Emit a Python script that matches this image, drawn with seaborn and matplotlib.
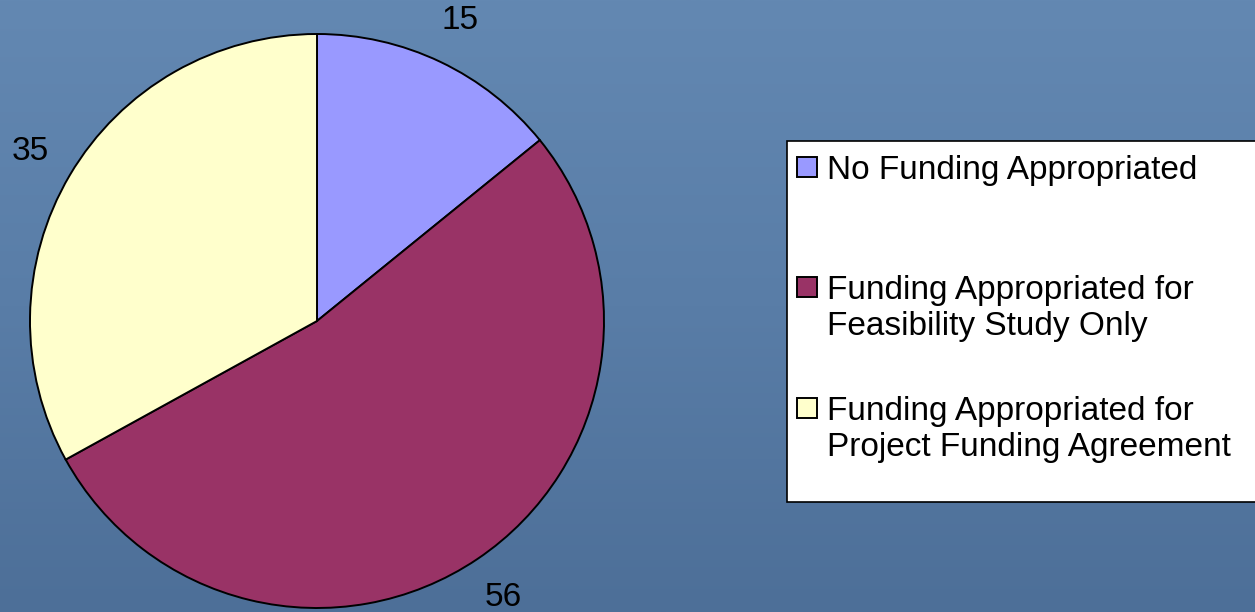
import numpy as np
import pandas as pd
import matplotlib
matplotlib.use('Agg')
import matplotlib.pyplot as plt
from matplotlib.colors import LinearSegmentedColormap
from matplotlib.patches import Rectangle
import seaborn as sns

# data
categories = ["No Funding Appropriated",
              "Funding Appropriated for\nFeasibility Study Only",
              "Funding Appropriated for\nProject Funding Agreement"]
counts = [15, 56, 35]
colors = ["#9999ff", "#993366", "#ffffcc"]

sns.set_theme(style="white")
plt.rcParams['font.family'] = ['Liberation Sans', 'DejaVu Sans']

df = pd.DataFrame({"category": categories, "count": counts, "color": colors})

fig = plt.figure(figsize=(12.55, 6.12), dpi=100)

# slide-style background gradient
bg = fig.add_axes([0, 0, 1, 1], zorder=0)
bg_cmap = LinearSegmentedColormap.from_list("slide", ["#6388b2", "#597da7", "#4d6f98"])
bg.imshow(np.linspace(0, 1, 256).reshape(-1, 1), aspect="auto", cmap=bg_cmap,
          extent=[0, 1, 0, 1])
bg.set_axis_off()

# pie
ax = fig.add_axes([30 / 1255, 4 / 612, 574 / 1255, 574 / 612], zorder=1)
wedges, texts = ax.pie(df["count"], colors=df["color"], startangle=90, counterclock=False,
                       labels=[str(v) for v in df["count"]], labeldistance=1.16,
                       wedgeprops=dict(edgecolor="black", linewidth=1.4),
                       textprops=dict(fontsize=24, color="black", ha="center", va="center"))
ax.set_xlim(-1, 1)
ax.set_ylim(-1, 1)
ax.set_aspect("equal")

# legend box, drawn like the office chart legend
lg = fig.add_axes([0, 0, 1, 1], zorder=2)
lg.set_xlim(0, 1255)
lg.set_ylim(612, 0)
lg.set_axis_off()
lg.add_patch(Rectangle((787, 141), 480, 361, facecolor="white", edgecolor="black", linewidth=1.2))
row_y = [167, 287, 408]
for lab, col, y in zip(df["category"], df["color"], row_y):
    lg.add_patch(Rectangle((797, y - 10), 20, 20, facecolor=col, edgecolor="black", linewidth=1.4))
    lg.text(827, y - 12, lab, fontsize=24, color="black", va="top", ha="left", linespacing=1.2)

fig.savefig("out.png", dpi=100)
plt.close(fig)
